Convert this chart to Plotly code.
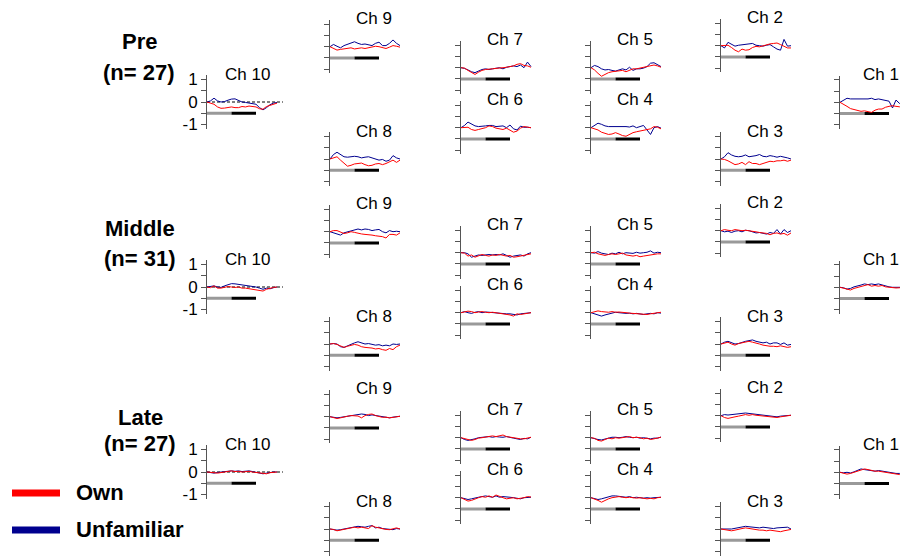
import plotly.graph_objects as go

# ---------------- data ----------------
time_pts = [0, 1, 2, 3, 4, 5, 6, 7, 8, 9, 10, 11, 12, 13, 14, 15, 16, 17, 18, 19, 20]
baseline_period = [0, 7]
stim_period = [7, 14]
zero_ref_span = [0, 21.7]
bar_level = -0.5
groups = ["Pre", "Middle", "Late"]
group_n = [27, 31, 27]
channels = ["Ch 10", "Ch 9", "Ch 8", "Ch 7", "Ch 6", "Ch 5", "Ch 4", "Ch 2", "Ch 3", "Ch 1"]
legend_names = ["Own", "Unfamiliar"]
ytick_vals = [-1, -0.5, 0, 0.5, 1]
ytick_text = ["-1", "", "0", "", "1"]

# Pre
pre_ch10_unf = [0, 0.05, 0.17, 0.05, 0, 0.02, 0.08, 0.13, 0.14, 0.08, 0, -0.02, -0.05, -0.08, -0.1, -0.25, -0.35, -0.25, -0.12, -0.05, -0.02]
pre_ch10_own = [0, -0.05, -0.1, -0.22, -0.28, -0.27, -0.25, -0.22, -0.25, -0.25, -0.2, -0.22, -0.18, -0.2, -0.22, -0.3, -0.32, -0.2, -0.15, -0.1, -0.05]
pre_ch9_unf = [0, 0.1, 0.02, -0.05, 0.05, 0.1, 0.15, 0.22, 0.15, 0.1, 0.12, 0.08, 0.05, 0.15, 0.2, 0.05, 0.05, 0.15, 0.3, 0.15, 0.05]
pre_ch9_own = [0, -0.08, -0.15, -0.12, -0.1, -0.08, -0.05, -0.1, -0.08, -0.05, -0.08, -0.05, -0.02, 0.02, 0.0, -0.05, -0.08, -0.02, 0.05, 0.02, -0.02]
pre_ch8_unf = [0, 0.2, 0.3, 0.18, 0.1, 0.08, 0.1, 0.12, 0.1, 0.05, 0.08, 0.1, 0.05, 0.0, -0.05, -0.02, -0.1, -0.05, 0.15, 0.05, 0.0]
pre_ch8_own = [0, 0.05, 0.1, -0.05, -0.2, -0.32, -0.28, -0.22, -0.2, -0.18, -0.25, -0.3, -0.28, -0.22, -0.2, -0.25, -0.2, -0.12, -0.05, -0.15, -0.05]
pre_ch7_unf = [0, -0.03, -0.1, -0.18, -0.22, -0.15, -0.08, -0.05, -0.08, -0.05, -0.02, 0.0, -0.05, 0.02, 0.05, 0.08, 0.05, 0.12, 0.0, 0.25, 0.05]
pre_ch7_own = [0, -0.02, -0.12, -0.22, -0.3, -0.2, -0.12, -0.08, -0.05, -0.05, -0.03, -0.03, 0.0, 0.02, 0.05, 0.08, 0.15, 0.18, 0.1, 0.08, 0.02]
pre_ch6_unf = [0, 0.1, 0.25, 0.15, 0.08, 0.05, 0.05, 0.08, 0.1, 0.1, 0.05, 0.05, 0.08, 0.0, 0.12, -0.05, -0.1, 0.07, 0.02, 0.02, 0.0]
pre_ch6_own = [0, 0.02, 0.02, -0.08, -0.12, -0.08, -0.05, 0.0, 0.08, 0.05, -0.02, -0.05, -0.08, -0.02, -0.1, -0.2, -0.15, -0.02, 0.05, 0.02, 0.0]
pre_ch5_unf = [0, 0.1, 0.05, -0.05, -0.1, -0.08, -0.12, -0.15, -0.1, -0.05, -0.1, 0.02, -0.12, -0.05, -0.05, -0.02, 0.05, 0.2, 0.22, 0.12, 0.05]
pre_ch5_own = [0, -0.1, -0.25, -0.38, -0.3, -0.22, -0.18, -0.15, -0.15, -0.12, -0.18, -0.1, -0.05, -0.05, -0.02, 0.02, 0.05, 0.1, 0.12, 0.08, 0.02]
pre_ch4_unf = [0, 0.12, 0.2, 0.15, 0.08, 0.05, 0.05, 0.08, 0.05, 0.05, 0.05, 0.03, 0.08, 0.0, 0.05, 0.1, -0.1, -0.3, 0.0, 0.05, -0.02]
pre_ch4_own = [0, -0.05, -0.1, -0.2, -0.25, -0.3, -0.28, -0.22, -0.28, -0.35, -0.38, -0.3, -0.22, -0.18, -0.15, -0.12, -0.1, -0.05, 0.05, 0.02, -0.05]
pre_ch2_unf = [0, -0.1, 0.15, 0.08, -0.02, 0.02, 0.05, 0.05, 0.08, 0.1, 0.02, 0.0, -0.02, 0.02, 0.05, -0.05, -0.15, -0.2, 0.28, -0.02, 0.0]
pre_ch2_own = [0, 0.02, 0.02, -0.08, -0.2, -0.27, -0.15, -0.2, -0.18, -0.08, -0.03, -0.05, 0.0, 0.05, 0.08, 0.1, 0.12, 0.05, -0.02, -0.1, -0.1]
pre_ch3_unf = [0, 0.1, 0.28, 0.18, 0.12, 0.1, 0.12, 0.18, 0.1, 0.12, 0.15, 0.2, 0.12, 0.1, 0.15, 0.12, 0.08, 0.12, 0.1, 0.05, 0.0]
pre_ch3_own = [0, -0.02, -0.08, -0.18, -0.25, -0.22, -0.15, -0.25, -0.12, -0.2, -0.2, -0.25, -0.2, -0.15, -0.1, -0.12, -0.08, -0.08, -0.05, -0.1, -0.05]
pre_ch1_unf = [0, 0.1, 0.18, 0.15, 0.15, 0.12, 0.15, 0.15, 0.15, 0.18, 0.12, 0.15, 0.12, 0.08, 0.05, -0.25, 0.1, -0.05, 0.0, 0.05, 0.02]
pre_ch1_own = [0, -0.08, -0.18, -0.28, -0.32, -0.38, -0.4, -0.38, -0.42, -0.45, -0.35, -0.3, -0.3, -0.22, -0.18, -0.15, -0.18, -0.2, -0.15, -0.12, -0.1]

# Middle
mid_ch10_unf = [0, 0.02, 0.05, 0.0, -0.02, 0.05, 0.1, 0.15, 0.14, 0.12, 0.1, 0.08, 0.05, 0.02, 0.0, -0.05, -0.1, -0.05, -0.08, -0.03, 0.0]
mid_ch10_own = [0, -0.03, 0.05, -0.05, -0.05, 0.0, 0.02, 0.0, -0.02, 0.0, -0.05, -0.05, -0.08, -0.1, -0.12, -0.15, -0.18, -0.1, -0.05, -0.02, 0.0]
mid_ch9_unf = [0, -0.05, -0.12, -0.15, -0.05, 0.0, 0.05, 0.1, 0.12, 0.08, 0.12, 0.1, 0.05, 0.08, 0.1, 0.0, -0.05, 0.05, 0.0, 0.02, 0.0]
mid_ch9_own = [0, 0.05, 0.05, -0.03, -0.08, -0.05, 0.0, -0.03, -0.08, -0.1, -0.12, -0.12, -0.15, -0.18, -0.2, -0.22, -0.28, -0.12, -0.12, -0.15, -0.05]
mid_ch8_unf = [0, 0.02, 0.0, -0.12, -0.15, -0.08, 0.0, 0.05, 0.1, 0.05, 0.0, 0.02, -0.02, -0.05, -0.03, -0.08, -0.05, -0.08, 0.0, -0.02, 0.0]
mid_ch8_own = [0, 0.02, -0.02, -0.1, -0.15, -0.1, -0.05, -0.02, -0.05, -0.12, -0.15, -0.15, -0.18, -0.22, -0.2, -0.25, -0.28, -0.2, -0.25, -0.12, -0.05]
mid_ch7_unf = [0, 0.0, -0.05, -0.2, -0.15, -0.1, -0.12, -0.1, -0.08, -0.1, -0.08, -0.1, -0.05, -0.12, -0.2, -0.15, -0.12, -0.1, -0.15, -0.05, 0.0]
mid_ch7_own = [0, -0.02, -0.15, -0.1, -0.2, -0.15, -0.08, -0.12, -0.15, -0.1, -0.12, -0.08, -0.12, -0.15, -0.12, -0.2, -0.18, -0.15, -0.12, -0.1, -0.05]
mid_ch6_unf = [0, 0.05, 0.0, -0.03, 0.02, 0.05, 0.0, 0.03, 0.02, 0.0, 0.0, -0.02, -0.03, -0.05, -0.05, -0.08, -0.1, -0.05, -0.03, -0.02, 0.0]
mid_ch6_own = [0, 0.03, 0.07, 0.05, 0.0, 0.03, 0.05, 0.02, 0.0, 0.02, 0.0, -0.03, -0.05, -0.05, -0.1, -0.15, -0.05, -0.08, -0.05, -0.02, 0.0]
mid_ch5_unf = [0, -0.02, 0.05, -0.02, -0.05, -0.08, -0.02, -0.05, 0.02, -0.05, 0.0, 0.0, -0.03, 0.02, -0.02, 0.0, 0.02, 0.08, -0.02, 0.02, 0.0]
mid_ch5_own = [0, 0.02, -0.05, -0.1, -0.12, -0.08, -0.05, -0.08, -0.05, -0.02, -0.1, -0.12, -0.15, -0.12, -0.18, -0.15, -0.12, -0.1, -0.08, -0.05, -0.05]
mid_ch4_unf = [0, -0.05, -0.12, -0.15, -0.1, -0.05, 0.0, 0.02, 0.0, -0.02, -0.03, -0.02, -0.05, -0.03, -0.05, -0.08, -0.05, -0.03, -0.05, 0.0, -0.02]
mid_ch4_own = [0, 0.05, 0.08, 0.05, 0.03, 0.02, 0.05, 0.02, 0.03, 0.0, 0.0, -0.02, -0.03, -0.02, -0.05, -0.05, -0.08, -0.05, -0.03, 0.0, 0.02]
mid_ch2_unf = [0, -0.05, -0.02, -0.08, -0.02, 0.0, -0.05, 0.02, 0.0, -0.05, -0.1, -0.08, -0.12, -0.15, -0.08, -0.12, 0.05, -0.15, 0.05, -0.08, 0.0]
mid_ch2_own = [0, 0.05, 0.02, 0.0, 0.05, 0.02, 0.0, 0.02, 0.0, 0.0, -0.05, -0.08, -0.1, -0.12, -0.18, -0.12, -0.1, -0.15, -0.12, -0.2, -0.1]
mid_ch3_unf = [0, 0.08, 0.12, 0.05, 0.0, 0.02, 0.08, 0.12, 0.15, 0.18, 0.12, 0.1, 0.05, 0.08, 0.0, 0.05, 0.05, -0.02, 0.05, -0.05, -0.02]
mid_ch3_own = [0, 0.05, 0.08, 0.0, -0.05, 0.02, 0.05, 0.1, 0.12, 0.08, 0.05, 0.0, -0.05, -0.08, -0.1, -0.1, -0.12, -0.08, -0.12, -0.15, -0.12]
mid_ch1_unf = [0, -0.02, -0.08, -0.05, 0.02, 0.05, 0.1, 0.15, 0.12, 0.15, 0.12, 0.15, 0.1, 0.05, 0.02, 0.0, 0.0, 0.0, 0.02, 0.0, 0.0]
mid_ch1_own = [0, -0.05, -0.1, -0.12, -0.05, 0.0, 0.05, 0.08, 0.12, 0.05, 0.08, 0.05, 0.08, 0.02, 0.0, 0.0, -0.03, -0.02, 0.0, 0.0, 0.0]

# Late
late_ch10_unf = [0, -0.02, -0.05, -0.02, 0.0, 0.02, 0.05, 0.05, 0.03, 0.05, 0.02, 0.03, 0.05, 0.02, -0.02, -0.05, -0.08, -0.05, -0.02, 0.0, 0.0]
late_ch10_own = [0, -0.03, -0.03, -0.05, -0.02, 0.0, 0.03, 0.05, 0.02, 0.03, 0.0, 0.02, 0.03, 0.0, -0.02, -0.03, -0.05, -0.08, -0.03, -0.02, 0.0]
late_ch9_unf = [0, -0.03, -0.05, -0.03, 0.0, 0.03, 0.05, 0.08, 0.1, 0.12, 0.1, 0.05, 0.08, 0.05, 0.03, 0.0, -0.03, -0.05, -0.02, 0.0, 0.02]
late_ch9_own = [0, -0.05, -0.08, -0.05, 0.0, 0.02, 0.05, 0.05, 0.03, -0.05, 0.05, 0.1, 0.12, 0.05, 0.0, -0.03, -0.02, -0.05, -0.03, 0.0, 0.02]
late_ch8_unf = [0, -0.03, -0.05, -0.03, 0.0, 0.05, 0.08, 0.1, 0.12, 0.1, 0.08, 0.12, 0.15, 0.05, 0.08, 0.02, 0.0, -0.02, -0.03, 0.02, 0.0]
late_ch8_own = [0, -0.02, -0.08, -0.05, 0.0, 0.03, 0.05, 0.08, 0.05, 0.08, 0.05, 0.02, 0.15, 0.08, 0.05, 0.0, -0.02, -0.03, 0.0, 0.05, 0.0]
late_ch7_unf = [0, -0.08, -0.12, -0.1, -0.05, 0.0, 0.02, 0.05, 0.05, 0.02, 0.05, 0.03, 0.02, 0.05, 0.0, -0.02, -0.05, -0.08, -0.03, -0.05, 0.02]
late_ch7_own = [0, -0.05, -0.1, -0.12, -0.08, -0.02, 0.0, 0.02, 0.05, 0.08, 0.05, 0.08, 0.12, 0.05, 0.02, 0.0, -0.02, -0.05, -0.05, -0.02, 0.02]
late_ch6_unf = [0, -0.05, -0.08, -0.05, 0.0, 0.02, 0.05, 0.08, 0.05, 0.02, 0.08, 0.02, 0.05, 0.05, 0.02, 0.0, -0.03, -0.05, 0.0, 0.02, 0.02]
late_ch6_own = [0, -0.08, -0.15, -0.12, -0.05, 0.0, 0.05, 0.02, 0.08, 0.02, 0.12, 0.05, 0.0, -0.05, -0.02, 0.0, -0.05, -0.03, 0.0, 0.05, 0.03]
late_ch5_unf = [0, -0.05, -0.08, -0.1, -0.05, 0.0, 0.02, 0.02, 0.0, 0.02, 0.05, 0.02, 0.0, 0.02, -0.02, 0.0, -0.03, -0.05, -0.02, -0.02, 0.03]
late_ch5_own = [0, -0.03, -0.12, -0.15, -0.08, -0.02, -0.05, 0.0, -0.02, 0.0, 0.02, 0.05, 0.0, 0.02, 0.0, -0.05, -0.02, -0.08, -0.05, -0.02, 0.02]
late_ch4_unf = [0, -0.05, -0.08, -0.05, 0.0, 0.05, 0.08, 0.08, 0.05, 0.05, 0.02, 0.05, 0.0, 0.02, 0.0, -0.02, 0.0, -0.02, 0.0, 0.0, 0.02]
late_ch4_own = [0, -0.05, -0.12, -0.2, -0.12, -0.05, 0.0, 0.02, 0.05, 0.02, 0.0, 0.02, 0.0, -0.02, 0.0, -0.03, -0.05, -0.03, -0.05, 0.0, 0.02]
late_ch2_unf = [0, 0.05, 0.03, 0.05, 0.05, 0.08, 0.1, 0.12, 0.1, 0.08, 0.05, 0.05, 0.02, 0.0, -0.02, -0.05, -0.05, -0.02, 0.0, 0.02, 0.02]
late_ch2_own = [0, -0.08, -0.12, -0.1, -0.05, -0.02, 0.02, 0.05, 0.02, 0.05, 0.02, 0.0, -0.02, -0.03, -0.05, -0.08, -0.08, -0.05, -0.03, 0.0, 0.02]
late_ch3_unf = [0, 0.0, -0.02, 0.0, 0.03, 0.05, 0.1, 0.12, 0.1, 0.08, 0.05, 0.05, 0.08, 0.05, 0.05, 0.02, 0.05, 0.05, 0.05, 0.08, 0.0]
late_ch3_own = [0, -0.02, -0.05, -0.08, -0.05, 0.0, 0.02, 0.05, 0.02, 0.0, -0.02, -0.05, -0.05, -0.08, -0.05, -0.08, -0.1, -0.12, -0.08, -0.05, -0.02]
late_ch1_unf = [0, -0.02, 0.0, -0.03, 0.02, 0.1, 0.15, 0.12, 0.1, 0.08, 0.05, 0.08, 0.05, 0.02, 0.0, -0.03, -0.05, -0.05, -0.03, 0.0, 0.0]
late_ch1_own = [0, -0.05, -0.08, -0.05, 0.0, 0.05, 0.08, 0.15, 0.12, 0.08, 0.05, 0.05, 0.02, 0.0, -0.03, -0.05, -0.08, -0.1, -0.05, -0.02, 0.0]

series = {
    "Pre": {
        "Ch 10": (pre_ch10_own, pre_ch10_unf), "Ch 9": (pre_ch9_own, pre_ch9_unf),
        "Ch 8": (pre_ch8_own, pre_ch8_unf), "Ch 7": (pre_ch7_own, pre_ch7_unf),
        "Ch 6": (pre_ch6_own, pre_ch6_unf), "Ch 5": (pre_ch5_own, pre_ch5_unf),
        "Ch 4": (pre_ch4_own, pre_ch4_unf), "Ch 2": (pre_ch2_own, pre_ch2_unf),
        "Ch 3": (pre_ch3_own, pre_ch3_unf), "Ch 1": (pre_ch1_own, pre_ch1_unf),
    },
    "Middle": {
        "Ch 10": (mid_ch10_own, mid_ch10_unf), "Ch 9": (mid_ch9_own, mid_ch9_unf),
        "Ch 8": (mid_ch8_own, mid_ch8_unf), "Ch 7": (mid_ch7_own, mid_ch7_unf),
        "Ch 6": (mid_ch6_own, mid_ch6_unf), "Ch 5": (mid_ch5_own, mid_ch5_unf),
        "Ch 4": (mid_ch4_own, mid_ch4_unf), "Ch 2": (mid_ch2_own, mid_ch2_unf),
        "Ch 3": (mid_ch3_own, mid_ch3_unf), "Ch 1": (mid_ch1_own, mid_ch1_unf),
    },
    "Late": {
        "Ch 10": (late_ch10_own, late_ch10_unf), "Ch 9": (late_ch9_own, late_ch9_unf),
        "Ch 8": (late_ch8_own, late_ch8_unf), "Ch 7": (late_ch7_own, late_ch7_unf),
        "Ch 6": (late_ch6_own, late_ch6_unf), "Ch 5": (late_ch5_own, late_ch5_unf),
        "Ch 4": (late_ch4_own, late_ch4_unf), "Ch 2": (late_ch2_own, late_ch2_unf),
        "Ch 3": (late_ch3_own, late_ch3_unf), "Ch 1": (late_ch1_own, late_ch1_unf),
    },
}

# ---------------- layout geometry (pixels) ----------------
W, H = 900, 556
ROW_STEP = 185
PX_PER_UNIT_Y = 22.5
PX_PER_UNIT_X = 3.5
Y_HALF = 1.18
PANEL_W = 76
# channel -> (axis x pixel, zero-line y pixel) for the first row
panel_pos = {
    "Ch 10": (207, 102), "Ch 9": (330, 46.7), "Ch 8": (330, 159),
    "Ch 7": (461, 67.7), "Ch 6": (461, 127.7), "Ch 5": (591, 67.7),
    "Ch 4": (591, 127.7), "Ch 2": (721, 45.7), "Ch 3": (721, 159),
    "Ch 1": (840, 102.3),
}
title_dx = {"Ch 10": 40, "Ch 1": 41}
label_pos = {"Pre": (139, 42, 73), "Middle": (140, 43, 73), "Late": (140, 47, 73)}
legend_rows = [493, 530]

RED = "#ff0000"
BLUE = "#00008f"
AXIS_COL = "#555555"
FONT = "Liberation Sans, Arial, sans-serif"


def px(x):
    return x / W


def py(y):
    return 1 - y / H


fig = go.Figure()
layout_axes = {}
annotations = []
shapes = []
k = 0
for r, grp in enumerate(groups):
    for ch in channels:
        k += 1
        ax_x, zero_y = panel_pos[ch]
        zero_y = zero_y + r * ROW_STEP
        x_right = min(ax_x + PANEL_W, W)
        xr = (x_right - ax_x) / PX_PER_UNIT_X
        y_top = zero_y - Y_HALF * PX_PER_UNIT_Y
        y_bot = zero_y + Y_HALF * PX_PER_UNIT_Y
        xa = "x" if k == 1 else f"x{k}"
        ya = "y" if k == 1 else f"y{k}"
        xname = "xaxis" if k == 1 else f"xaxis{k}"
        yname = "yaxis" if k == 1 else f"yaxis{k}"
        is_ch10 = ch == "Ch 10"
        layout_axes[xname] = dict(domain=[px(ax_x), px(x_right)], range=[0, xr],
                                  visible=False, anchor=ya, fixedrange=True, automargin=False)
        layout_axes[yname] = dict(domain=[py(y_bot), py(y_top)], range=[-Y_HALF, Y_HALF],
                                  anchor=xa, showline=True, linecolor=AXIS_COL, linewidth=1,
                                  ticks="outside", ticklen=5, tickcolor=AXIS_COL, tickwidth=1,
                                  tickvals=ytick_vals, ticktext=ytick_text,
                                  showticklabels=is_ch10, showgrid=False, zeroline=False,
                                  tickfont=dict(family=FONT, size=17, color="black"),
                                  fixedrange=True, automargin=False)
        own, unf = series[grp][ch]
        if is_ch10:
            fig.add_trace(go.Scatter(x=zero_ref_span, y=[0, 0], mode="lines", xaxis=xa, yaxis=ya,
                                     line=dict(color="black", width=1, dash="3px,2px"),
                                     showlegend=False, hoverinfo="skip"))
        fig.add_trace(go.Scatter(x=baseline_period, y=[bar_level, bar_level], mode="lines",
                                 xaxis=xa, yaxis=ya, line=dict(color="#999999", width=3),
                                 showlegend=False, hoverinfo="skip"))
        fig.add_trace(go.Scatter(x=stim_period, y=[bar_level, bar_level], mode="lines",
                                 xaxis=xa, yaxis=ya, line=dict(color="black", width=3),
                                 showlegend=False, hoverinfo="skip"))
        fig.add_trace(go.Scatter(x=time_pts, y=unf, mode="lines", xaxis=xa, yaxis=ya,
                                 line=dict(color=BLUE, width=1), showlegend=False,
                                 name="Unfamiliar"))
        fig.add_trace(go.Scatter(x=time_pts, y=own, mode="lines", xaxis=xa, yaxis=ya,
                                 line=dict(color=RED, width=1), showlegend=False,
                                 name="Own"))
        off = title_dx.get(ch, 44)
        annotations.append(dict(x=px(ax_x + off), y=py(zero_y - 28), xref="paper", yref="paper",
                                text=ch, showarrow=False, xanchor="center", yanchor="middle",
                                font=dict(family=FONT, size=17, color="black")))

# row labels
for r, (grp, n) in enumerate(zip(groups, group_n)):
    cx, y1, y2 = label_pos[grp]
    annotations.append(dict(x=px(cx), y=py(y1 + r * ROW_STEP), xref="paper", yref="paper",
                            text=f"<b>{grp}</b>", showarrow=False, xanchor="center",
                            yanchor="middle", font=dict(family=FONT, size=22, color="black")))
    annotations.append(dict(x=px(cx), y=py(y2 + r * ROW_STEP), xref="paper", yref="paper",
                            text=f"<b>(n= {n})</b>", showarrow=False, xanchor="center",
                            yanchor="middle", font=dict(family=FONT, size=22, color="black")))

# legend (swatch + label)
for name, col, ly in zip(legend_names, [RED, BLUE], legend_rows):
    shapes.append(dict(type="line", xref="paper", yref="paper",
                       x0=px(12), x1=px(60), y0=py(ly), y1=py(ly),
                       line=dict(color=col, width=7)))
    annotations.append(dict(x=px(74), y=py(ly - 1), xref="paper", yref="paper",
                            text=f"<b>{name}</b>", showarrow=False, xanchor="left",
                            yanchor="middle", font=dict(family=FONT, size=22, color="black")))

fig.update_layout(
    width=W, height=H,
    margin=dict(l=0, r=0, t=0, b=0, autoexpand=False),
    paper_bgcolor="white", plot_bgcolor="rgba(0,0,0,0)",
    annotations=annotations,
    shapes=shapes,
    showlegend=False,
    **layout_axes,
)

fig.write_html("out.html",
               config={"displayModeBar": False},
               post_script="document.body.style.margin='0px';document.body.style.overflow='hidden';")
